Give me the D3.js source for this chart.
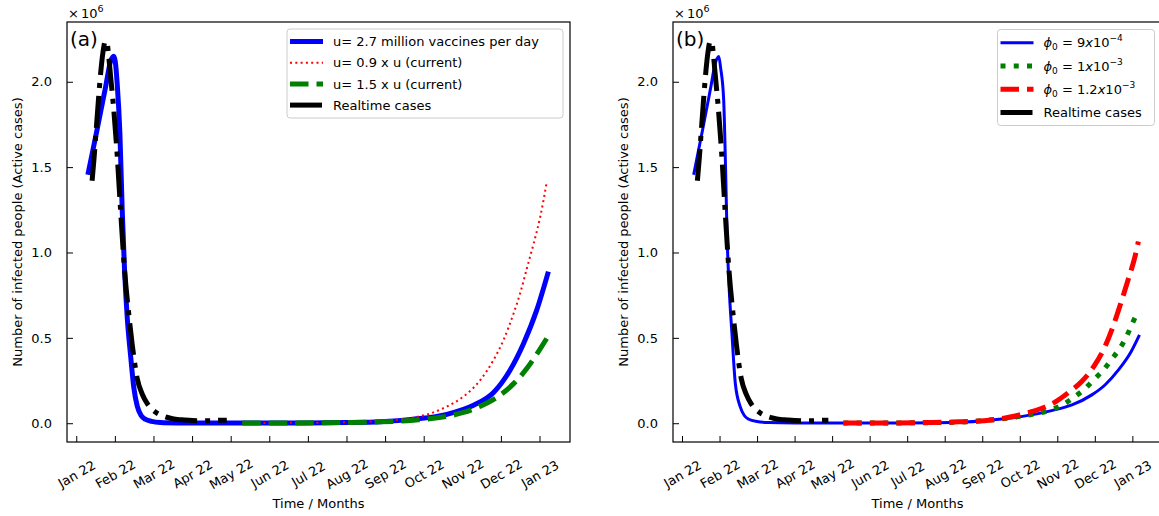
<!DOCTYPE html>
<html>
<head>
<meta charset="utf-8">
<script src="https://cdn.jsdelivr.net/npm/d3@7/dist/d3.min.js"></script>
<style>
body { margin: 0; background: #fff; }
svg text { font-family: "DejaVu Sans", sans-serif; fill: #000; white-space: pre; }
</style>
</head>
<body>
<svg id="chart" width="1159" height="516"></svg>
<script>
// x values are months counted from the Jan 22 tick, y values are millions of active cases
const monthLabels = ["Jan 22", "Feb 22", "Mar 22", "Apr 22", "May 22", "Jun 22", "Jul 22",
    "Aug 22", "Sep 22", "Oct 22", "Nov 22", "Dec 22", "Jan 23"]
const yTicks = [0, 0.5, 1.0, 1.5, 2.0]

const realtime = [[0.41, 1.42], [0.46, 1.55], [0.50, 1.67], [0.55, 1.82], [0.59, 1.94], [0.64, 2.07],
    [0.69, 2.17], [0.75, 2.235], [0.79, 2.235], [0.84, 2.15], [0.89, 2.03], [0.97, 1.84], [1.06, 1.57],
    [1.15, 1.24], [1.25, 0.90], [1.36, 0.64], [1.45, 0.46], [1.58, 0.26], [1.71, 0.17], [1.84, 0.115],
    [1.97, 0.08], [2.10, 0.058], [2.27, 0.04], [2.44, 0.029], [2.62, 0.022], [2.79, 0.019], [3.0, 0.016],
    [3.22, 0.015], [3.5, 0.015], [3.7, 0.017], [3.9, 0.018]]

// panel (a): vaccination rate
const vaccBase = [[0.30, 1.455], [0.54, 1.72], [0.76, 1.97], [0.89, 2.12], [0.97, 2.15], [1.01, 2.12],
    [1.06, 1.99], [1.13, 1.70], [1.19, 1.25], [1.25, 0.90], [1.32, 0.62], [1.41, 0.39], [1.49, 0.21],
    [1.58, 0.10], [1.68, 0.045], [1.80, 0.022], [1.95, 0.011], [2.18, 0.004], [2.6, 0.0015], [3.2, 0.0008],
    [4.0, 0.0008], [5.0, 0.0012], [6.0, 0.002], [7.0, 0.004], [7.88, 0.009], [8.74, 0.024], [9.60, 0.052],
    [10.29, 0.105], [10.81, 0.18], [11.24, 0.312], [11.59, 0.469], [11.93, 0.664], [12.23, 0.888]]
const vaccLow = [[4.3, 0.001], [5.5, 0.002], [6.5, 0.004], [7.5, 0.009], [8.3, 0.02], [8.74, 0.033],
    [9.17, 0.057], [9.60, 0.098], [10.03, 0.156], [10.47, 0.254], [10.81, 0.371], [11.07, 0.488],
    [11.33, 0.644], [11.50, 0.762], [11.67, 0.905], [11.85, 1.054], [12.02, 1.21], [12.19, 1.415]]
const vaccHigh = [[4.3, 0.001], [5.5, 0.0015], [6.5, 0.003], [7.5, 0.006], [7.88, 0.008], [8.74, 0.018],
    [9.60, 0.04], [10.03, 0.063], [10.47, 0.1], [10.90, 0.152], [11.33, 0.232], [11.67, 0.32],
    [11.93, 0.405], [12.19, 0.498]]

// panel (b): phi_0
const phi9 = [[0.31, 1.455], [0.55, 1.72], [0.76, 1.96], [0.89, 2.11], [0.98, 2.148], [1.03, 2.08],
    [1.11, 1.895], [1.16, 1.50], [1.20, 1.11], [1.25, 0.82], [1.33, 0.527], [1.42, 0.234], [1.55, 0.097],
    [1.66, 0.045], [1.78, 0.023], [2.0, 0.01], [2.31, 0.004], [3.0, 0.0012], [4.0, 0.0008], [5.0, 0.0012],
    [6.0, 0.002], [6.7, 0.003], [7.36, 0.005], [8.25, 0.019], [9.15, 0.043], [9.85, 0.074], [10.39, 0.107],
    [10.92, 0.166], [11.27, 0.224], [11.63, 0.312], [11.97, 0.42], [12.19, 0.517]]
const phi10 = [[4.3, 0.001], [5.5, 0.0015], [6.5, 0.003], [7.36, 0.006], [8.25, 0.02], [9.15, 0.045],
    [9.85, 0.08], [10.12, 0.105], [10.44, 0.152], [10.73, 0.201], [10.97, 0.254], [11.23, 0.312],
    [11.45, 0.375], [11.68, 0.443], [11.85, 0.51], [11.98, 0.575], [12.16, 0.66]]
const phi12 = [[4.3, 0.001], [5.5, 0.0015], [6.5, 0.004], [7.36, 0.008], [8.25, 0.019], [8.71, 0.035],
    [9.15, 0.057], [9.59, 0.088], [9.95, 0.125], [10.30, 0.18], [10.65, 0.244], [10.97, 0.332],
    [11.27, 0.449], [11.50, 0.576], [11.72, 0.722], [11.90, 0.849], [12.07, 0.976], [12.16, 1.064]]

const phiLabels = [["9", "\u22124"], ["1", "\u22123"], ["1.2", "\u22123"]]

var svg = d3.select("#chart")
var axTop = 22, axBottom = 442

var drawPanel = function (p) {
    let x = d3.scaleLinear().domain([-0.24, 12.79]).range([p.left, p.right])
    let y = d3.scaleLinear().domain([-0.11, 2.35]).range([axBottom, axTop])
    let g = svg.append("g")

    let line = d3.line()
        .x((d) => x(d[0]))
        .y((d) => y(d[1]))
        .curve(d3.curveMonotoneX)

    p.series.forEach((s) => {
        g.append("path").datum(s.data)
            .attr("d", line)
            .attr("fill", "none")
            .attr("stroke", s.color)
            .attr("stroke-width", s.width)
            .attr("stroke-dasharray", s.dash)
    })

    // axes, ticks point inwards
    let xAxis = g.append("g")
        .attr("transform", "translate(0," + axBottom + ")")
        .call(d3.axisBottom(x).tickValues(d3.range(monthLabels.length))
            .tickFormat((i) => monthLabels[i]).tickSizeInner(-6).tickSizeOuter(0))
    xAxis.selectAll("text")
        .attr("y", 0).attr("dy", "0.35em")
        .attr("transform", "translate(0,32) rotate(-30)")
        .attr("text-anchor", "middle")

    g.append("g")
        .attr("transform", "translate(" + p.left + ",0)")
        .call(d3.axisLeft(y).tickValues(yTicks).tickFormat(d3.format(".1f"))
            .tickSizeInner(-6).tickSizeOuter(0).tickPadding(15))

    g.selectAll(".domain").remove()
    g.selectAll(".tick text").attr("font-size", 13).attr("font-family", "DejaVu Sans")
    g.selectAll(".tick line").attr("stroke", "#000").attr("stroke-width", 1)

    g.append("rect")
        .attr("x", p.left).attr("y", axTop)
        .attr("width", p.right - p.left).attr("height", axBottom - axTop)
        .attr("fill", "none").attr("stroke", "#000").attr("stroke-width", 1.2)

    // offset text and panel tag
    let off = g.append("text").attr("x", p.left + 1).attr("y", 18).attr("font-size", 13)
    off.append("tspan").text("\u00d7")
    off.append("tspan").attr("dx", 2).text("10")
    off.append("tspan").attr("font-size", 9.5).attr("dy", -6).text("6")

    g.append("text").attr("x", p.left + 3).attr("y", 46).attr("font-size", 20).text(p.tag)

    g.append("text")
        .attr("transform", "translate(" + (p.left - 45) + "," + ((axTop + axBottom) / 2) + ") rotate(-90)")
        .attr("text-anchor", "middle").attr("font-size", 13)
        .text("Number of infected people (Active cases)")

    g.append("text")
        .attr("x", (p.left + p.right) / 2).attr("y", 508)
        .attr("text-anchor", "middle").attr("font-size", 13)
        .text("Time / Months")

    // legend
    let lg = g.append("g").attr("transform", "translate(" + p.legend.x + "," + p.legend.y + ")")
    lg.append("rect")
        .attr("width", p.legend.w).attr("height", p.legend.h)
        .attr("rx", 3)
        .attr("fill", "#fff").attr("fill-opacity", 0.8)
        .attr("stroke", "#ccc").attr("stroke-width", 1)
    p.series.forEach((s, i) => {
        let cy = p.legend.first + i * p.legend.step
        lg.append("line")
            .attr("x1", 3).attr("x2", 36).attr("y1", cy).attr("y2", cy)
            .attr("stroke", s.color).attr("stroke-width", s.width)
            .attr("stroke-dasharray", s.dash)
        let t = lg.append("text").attr("x", 46).attr("y", cy).attr("dy", "0.36em").attr("font-size", 13)
        s.label(t)
    })
}

var plainLabel = (str) => (t) => t.text(str)
var phiLabel = (k) => (t) => {
    t.append("tspan").attr("font-style", "italic").text("\u03d5")
    t.append("tspan").attr("font-size", 9).attr("dy", 3).text("0")
    t.append("tspan").attr("dy", -3).text(" = " + phiLabels[k][0])
    t.append("tspan").attr("font-style", "italic").text("x")
    t.append("tspan").text("10")
    t.append("tspan").attr("font-size", 9).attr("dy", -6).text(phiLabels[k][1])
}

drawPanel({
    left: 67, right: 570, tag: "(a)",
    legend: {x: 287, y: 29, w: 276, h: 89, first: 12.5, step: 21.2},
    series: [
        {data: vaccBase, color: "#0000ff", width: 5, dash: null, label: plainLabel("u= 2.7 million vaccines per day")},
        {data: vaccLow, color: "#ff0000", width: 2, dash: "2,3.3", label: plainLabel("u= 0.9 x u (current)")},
        {data: vaccHigh, color: "#008000", width: 5, dash: "18.5,8", label: plainLabel("u= 1.5 x u (current)")},
        {data: realtime, color: "#000", width: 5, dash: "32,8,5,8", label: plainLabel("Realtime cases")}
    ]
})

drawPanel({
    left: 673, right: 1162, tag: "(b)",
    legend: {x: 997.5, y: 29.5, w: 157, h: 96, first: 13.2, step: 23.3},
    series: [
        {data: phi9, color: "#0000ff", width: 3, dash: null, label: phiLabel(0)},
        {data: phi10, color: "#008000", width: 5, dash: "5,8.25", label: phiLabel(1)},
        {data: phi12, color: "#ff0000", width: 5, dash: "18.5,8", label: phiLabel(2)},
        {data: realtime, color: "#000", width: 5, dash: "32,8,5,8", label: plainLabel("Realtime cases")}
    ]
})
</script>
</body>
</html>
